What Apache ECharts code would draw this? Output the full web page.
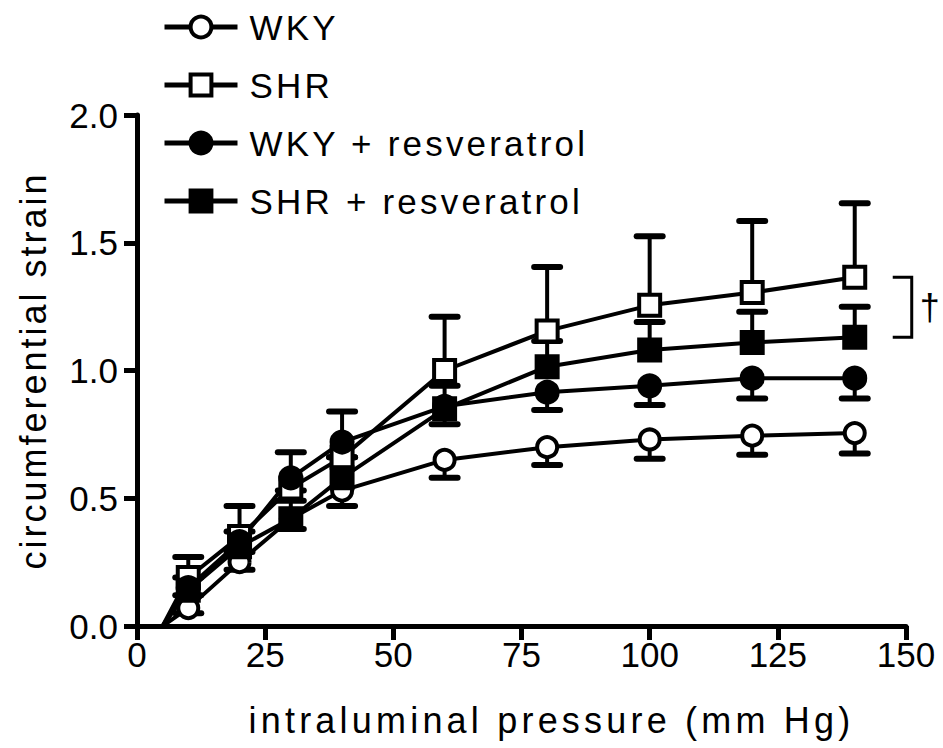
<!DOCTYPE html>
<html>
<head>
<meta charset="utf-8">
<style>
  html, body { margin: 0; padding: 0; background: #fff; }
  #chart { width: 943px; height: 748px; }
</style>
<script src="https://cdn.jsdelivr.net/npm/echarts@6/dist/echarts.min.js"></script>
</head>
<body>
<div id="chart"></div>
<script>
// pressure steps (mm Hg) and mean strain / SEM per group
const pressure = [0, 5, 10, 20, 30, 40, 60, 80, 100, 120, 140];
const wky = [0, 0, 0.07, 0.25, 0.42, 0.53, 0.65, 0.70, 0.73, 0.745, 0.755];
const wkyErr = [0, 0, 0.02, 0.03, 0.04, 0.06, 0.07, 0.07, 0.075, 0.075, 0.08];
const shr = [0, 0, 0.19, 0.35, 0.54, 0.66, 1.0, 1.155, 1.255, 1.305, 1.365];
const shrErr = [0, 0, 0.08, 0.12, 0.14, 0.18, 0.21, 0.25, 0.27, 0.28, 0.29];
const wkyRes = [0, 0, 0.15, 0.33, 0.58, 0.72, 0.86, 0.915, 0.94, 0.97, 0.97];
const wkyResErr = [0, 0, 0.03, 0.04, 0.05, 0.06, 0.07, 0.07, 0.075, 0.08, 0.08];
const shrRes = [0, 0, 0.14, 0.31, 0.42, 0.58, 0.85, 1.015, 1.08, 1.11, 1.13];
const shrResErr = [0, 0, 0.05, 0.06, 0.07, 0.08, 0.09, 0.10, 0.11, 0.12, 0.12];
const stars = ['', '', '', '', '', '', '', '*', '*', '* *', '* *'];
const groups = ['WKY', 'SHR', 'WKY + resveratrol', 'SHR + resveratrol'];
const xTicks = [0, 25, 50, 75, 100, 125, 150];

const FONT = "'Liberation Sans', Arial, Helvetica, sans-serif";
const X_TITLE = 'intraluminal pressure (mm Hg)';
const Y_TITLE = 'circumferential strain';

// the original lettering is tracked out, numbers are not
const tracking = { [X_TITLE]: 4.2, [Y_TITLE]: 3 };
groups.forEach(g => { tracking[g] = 3.2; });

function pts(vals) {
  return pressure.map((p, i) => {
    const item = { value: [p, vals[i]] };
    if (p < 10) item.symbol = 'none';
    return item;
  });
}

function lineSeries(name, vals, symbol, filled, size) {
  return {
    name,
    type: 'line',
    data: pts(vals),
    symbol,
    symbolSize: size,
    showAllSymbol: true,
    z: 4,
    lineStyle: { color: '#000', width: 4 },
    itemStyle: { color: filled ? '#000' : '#fff', borderColor: '#000', borderWidth: 4 },
    emphasis: { disabled: true },
    animation: false
  };
}

// error bar drawn one side only (dir = 1 up, -1 down)
function errSeries(vals, errs, dir) {
  return {
    type: 'custom',
    z: 3,
    silent: true,
    animation: false,
    data: pressure.map((p, i) => [p, vals[i], errs[i]]).filter(d => d[0] >= 10),
    renderItem: function (params, api) {
      const x = api.value(0), y = api.value(1), e = api.value(2);
      const a = api.coord([x, y]);
      const b = api.coord([x, y + dir * e]);
      return {
        type: 'group',
        children: [
          { type: 'line', shape: { x1: a[0], y1: a[1], x2: b[0], y2: b[1] }, style: { stroke: '#000', lineWidth: 4 } },
          { type: 'line', shape: { x1: b[0] - 13, y1: b[1], x2: b[0] + 13, y2: b[1] }, style: { stroke: '#000', lineWidth: 6, lineCap: 'round' } }
        ]
      };
    }
  };
}

const chart = echarts.init(document.getElementById('chart'), null, { renderer: 'svg' });

const option = {
  animation: false,
  backgroundColor: '#fff',
  textStyle: { fontFamily: FONT, color: '#000' },
  grid: { left: 137, right: 37, top: 115, bottom: 122, containLabel: false },
  legend: {
    orient: 'vertical',
    left: 162,
    top: 7,
    padding: 0,
    itemWidth: 73,
    itemHeight: 26,
    itemGap: 18,
    selectedMode: false,
    data: groups,
    lineStyle: { color: '#000', width: 5 },
    itemStyle: { borderColor: '#000', borderWidth: 4 },
    textStyle: { fontFamily: FONT, fontSize: 35, color: '#000', lineHeight: 40, padding: [0, 0, 0, 7] }
  },
  xAxis: {
    type: 'value',
    min: 0,
    max: 150,
    interval: 25,
    name: X_TITLE,
    nameLocation: 'middle',
    nameGap: 76,
    nameTextStyle: { fontFamily: FONT, fontSize: 36, color: '#000', padding: [0, 0, 0, 60] },
    axisLine: { onZero: false, lineStyle: { color: '#000', width: 5 } },
    axisTick: { length: 14, lineStyle: { color: '#000', width: 5 } },
    axisLabel: { fontFamily: FONT, fontSize: 35, color: '#000', margin: 11, customValues: xTicks },
    splitLine: { show: false }
  },
  yAxis: {
    type: 'value',
    min: 0,
    max: 2,
    interval: 0.5,
    name: Y_TITLE,
    nameLocation: 'middle',
    nameGap: 86,
    nameTextStyle: { fontFamily: FONT, fontSize: 36, color: '#000' },
    axisLine: { onZero: false, lineStyle: { color: '#000', width: 5 } },
    axisTick: { length: 13, lineStyle: { color: '#000', width: 5 } },
    axisLabel: { fontFamily: FONT, fontSize: 35, color: '#000', margin: 19, formatter: v => v.toFixed(1) },
    splitLine: { show: false }
  },
  series: [
    errSeries(wky, wkyErr, -1),
    errSeries(shr, shrErr, 1),
    errSeries(wkyRes, wkyResErr, -1),
    errSeries(shrRes, shrResErr, 1),
    lineSeries(groups[0], wky, 'circle', false, 20),
    lineSeries(groups[1], shr, 'rect', false, 21),
    lineSeries(groups[2], wkyRes, 'circle', true, 21),
    lineSeries(groups[3], shrRes, 'rect', true, 21),
    {
      // significance stars above the SHR error caps
      type: 'scatter',
      symbol: 'none',
      silent: true,
      z: 5,
      data: pressure.map((p, i) => ({ value: [p, shr[i] + shrErr[i]], label: { formatter: stars[i] } }))
        .filter((d, i) => stars[i] !== ''),
      label: { show: true, position: 'top', distance: 2, fontFamily: FONT, fontSize: 34, color: '#000' }
    },
    {
      // dagger bracket between SHR and SHR + resveratrol at the last step
      type: 'custom',
      silent: true,
      z: 5,
      data: [[pressure[pressure.length - 1], shr[shr.length - 1], shrRes[shrRes.length - 1]]],
      renderItem: function (params, api) {
        const top = api.coord([api.value(0), api.value(1)]);
        const bot = api.coord([api.value(0), api.value(2)]);
        const x0 = top[0] + 38, x1 = top[0] + 57;
        return {
          type: 'group',
          children: [
            { type: 'polyline', shape: { points: [[x0, top[1]], [x1, top[1]], [x1, bot[1]], [x0, bot[1]]] }, style: { stroke: '#000', lineWidth: 3, fill: null } },
            { type: 'text', style: { text: '\u2020', x: x1 + 18, y: (top[1] + bot[1]) / 2, align: 'center', verticalAlign: 'middle', font: '36px ' + FONT, fill: '#000' } }
          ]
        };
      }
    }
  ]
};

chart.setOption(option);

// add the letter tracking to the svg text nodes
chart.getDom().querySelectorAll('text').forEach(t => {
  const sp = tracking[t.textContent];
  if (sp) t.setAttribute('letter-spacing', sp);
});
</script>
</body>
</html>
